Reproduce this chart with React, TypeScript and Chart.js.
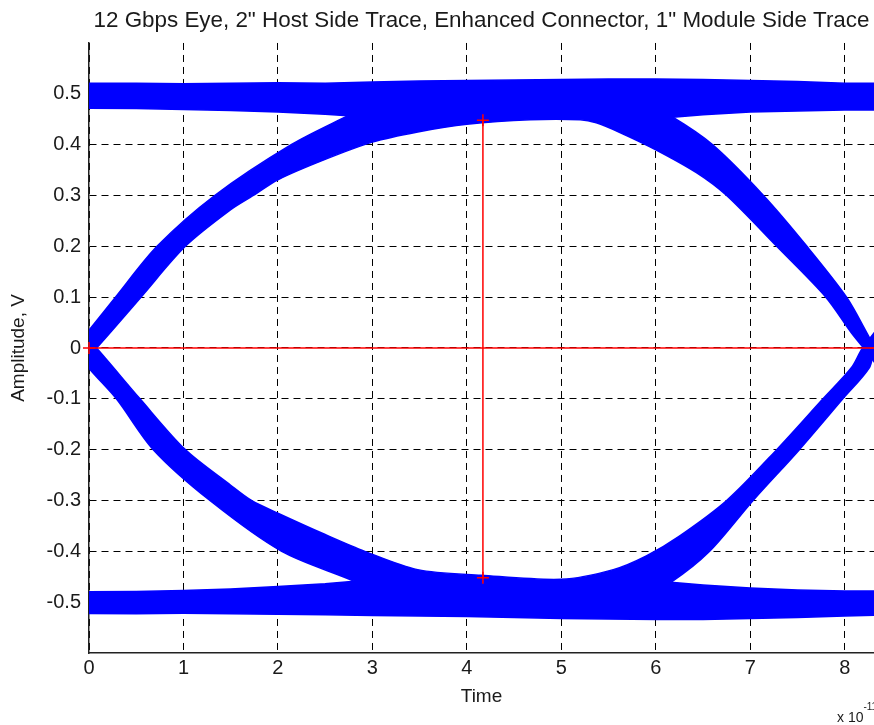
import React, { useEffect, useRef } from 'react';
import { Chart, registerables } from 'chart.js';

Chart.register(...registerables);

type P = [number, number];

// ---- text ----
const TITLE = '12 Gbps Eye, 2" Host Side Trace, Enhanced Connector, 1" Module Side Trace';
const X_TITLE = 'Time';
const Y_TITLE = 'Amplitude, V';
const X_MULT = 'x 10';
const X_EXP = '-11';

// ---- axes (time in units of 1e-11 s, amplitude in V) ----
const X_MIN = 0;
const X_MAX = 8.31;
const Y_MIN = -0.6;
const Y_MAX = 0.6;
const X_TICKS = [0, 1, 2, 3, 4, 5, 6, 7, 8];
const Y_TICKS = [-0.5, -0.4, -0.3, -0.2, -0.1, 0, 0.1, 0.2, 0.3, 0.4, 0.5];

// ---- upper rail ----
const upperRailTop: P[] = [
  [-0.2, 0.521], [0.5, 0.521], [1, 0.52], [1.5, 0.521], [2, 0.522], [2.5, 0.521],
  [3, 0.523], [3.5, 0.525], [4, 0.526], [4.5, 0.527], [5, 0.528], [5.5, 0.529],
  [6, 0.529], [6.5, 0.528], [7, 0.526], [7.5, 0.524], [8, 0.521], [8.6, 0.521],
];
const upperRailBottom: P[] = [
  [-0.2, 0.472], [0.5, 0.471], [1, 0.469], [1.5, 0.467], [2, 0.464], [2.5, 0.46], [2.74, 0.457],
  [6.18, 0.454], [6.5, 0.459], [7, 0.464], [7.5, 0.466], [8, 0.468], [8.6, 0.468],
];
// ---- upper transitions ----
const risingOuterLeft: P[] = [
  [-0.2, -0.01], [0, 0.035], [0.28, 0.1], [0.72, 0.2], [1.33, 0.3], [2.14, 0.4], [2.74, 0.457],
];
const upperMerge: P[] = [[3.1, 0.49], [5.8, 0.49]];
const fallingOuterRight: P[] = [
  [6.18, 0.454], [6.6, 0.4], [7.14, 0.3], [7.6, 0.2], [8.02, 0.1], [8.24, 0.028], [8.32, 0], [8.5, -0.05],
];
const eyeTopInner: P[] = [
  [-0.2, -0.055], [0.08, 0], [0.55, 0.1], [1.02, 0.2], [1.5, 0.272], [1.74, 0.3], [2.0, 0.331],
  [2.5, 0.371], [3.0, 0.405], [3.48, 0.425], [4.0, 0.44], [4.67, 0.449], [5.2, 0.449], [5.37, 0.443],
  [5.62, 0.424], [6.0, 0.39], [6.43, 0.345], [6.75, 0.3], [7.28, 0.2], [7.8, 0.1], [8.07, 0.03],
  [8.2, 0], [8.5, -0.07],
];

// ---- lower rail ----
const lowerRailBottom: P[] = [
  [-0.2, -0.522], [0.5, -0.523], [1, -0.522], [1.5, -0.523], [2, -0.524], [2.5, -0.525],
  [3, -0.526], [3.5, -0.527], [4, -0.528], [4.5, -0.53], [5, -0.532], [5.5, -0.533],
  [6, -0.534], [6.5, -0.534], [7, -0.532], [7.5, -0.53], [8, -0.527], [8.6, -0.525],
];
const lowerRailTop: P[] = [
  [-0.2, -0.48], [0.5, -0.479], [1, -0.477], [1.5, -0.474], [2, -0.469], [2.5, -0.464], [2.81, -0.459],
  [6.16, -0.461], [6.5, -0.466], [7, -0.472], [7.5, -0.476], [8, -0.478], [8.6, -0.478],
];
// ---- lower transitions ----
const fallingOuterLeft: P[] = [
  [-0.2, 0.01], [0, -0.04], [0.29, -0.1], [0.68, -0.2], [1.28, -0.3], [2.04, -0.4], [2.81, -0.459],
];
const lowerMerge: P[] = [[3.2, -0.495], [5.8, -0.495]];
const risingOuterRight: P[] = [
  [6.16, -0.461], [6.57, -0.4], [7.03, -0.3], [7.52, -0.2], [7.98, -0.1], [8.26, -0.039], [8.32, 0], [8.5, 0.05],
];
const eyeBottomInner: P[] = [
  [-0.2, 0.055], [0.08, 0], [0.54, -0.1], [1.02, -0.2], [1.5, -0.27], [1.72, -0.3], [2.0, -0.325],
  [2.5, -0.367], [2.92, -0.4], [3.48, -0.436], [4.15, -0.447], [5.0, -0.455], [5.55, -0.436],
  [5.9, -0.409], [6.25, -0.37], [6.75, -0.3], [7.28, -0.2], [7.77, -0.1], [8.07, -0.039],
  [8.19, 0], [8.5, 0.07],
];

// ---- red cursors ----
const cursorVertical: P[] = [[4.17, 0.448], [4.17, -0.452]];
const cursorHorizontal: P[] = [[0, 0], [8.33, 0]];

const rev = (a: P[]) => a.slice().reverse();
const toXY = (a: P[]) => a.map(([x, y]) => ({ x, y }));

const upperRailShape = toXY([...upperRailTop, ...rev(upperRailBottom)]);
const lowerRailShape = toXY([...lowerRailBottom, ...rev(lowerRailTop)]);
const upperBodyShape = toXY([
  ...eyeTopInner,
  ...rev(fallingOuterRight),
  ...rev(upperMerge),
  ...rev(risingOuterLeft),
]);
const lowerBodyShape = toXY([
  ...eyeBottomInner,
  ...rev(risingOuterRight),
  ...rev(lowerMerge),
  ...rev(fallingOuterLeft),
]);

const BLUE = '#0000ff';
const RED = '#ff0000';
const FONT = "'Liberation Sans', Arial, sans-serif";
const TEXT = '#1a1a1a';

const exponentPlugin = {
  id: 'exponentLabel',
  afterDraw(chart: any) {
    const ctx = chart.ctx;
    ctx.save();
    ctx.fillStyle = TEXT;
    ctx.textBaseline = 'alphabetic';
    ctx.textAlign = 'left';
    ctx.font = `14px ${FONT}`;
    const x0 = 837;
    ctx.fillText(X_MULT, x0, 722);
    const w = ctx.measureText(X_MULT).width;
    ctx.font = `10px ${FONT}`;
    ctx.fillText(X_EXP, x0 + w, 710);
    ctx.restore();
  },
};

const shapeDs = (label: string, data: any[], tension: number) => ({
  label,
  data,
  showLine: true,
  fill: 'shape' as any,
  backgroundColor: BLUE,
  borderColor: BLUE,
  borderWidth: 1.5,
  pointRadius: 0,
  tension,
  capBezierPoints: false,
  order: 1,
  clip: 0 as any,
});

const cursorDs = (label: string, data: any[]) => ({
  label,
  data,
  showLine: true,
  borderColor: RED,
  borderWidth: 1.5,
  pointStyle: 'cross' as any,
  pointRadius: 6,
  pointBorderColor: RED,
  pointBorderWidth: 1.5,
  order: 0,
  clip: false as any,
});

export default function App() {
  const ref = useRef<HTMLCanvasElement | null>(null);

  useEffect(() => {
    document.body.style.margin = '0';
    const canvas = ref.current;
    if (!canvas) return;
    const zeroPad = (s: any) => {
      s.paddingLeft = 0;
      s.paddingRight = 0;
      s.paddingTop = 0;
      s.paddingBottom = 0;
    };
    const chart = new Chart(canvas, {
      type: 'scatter',
      data: {
        datasets: [
          cursorDs('cursor-v', toXY(cursorVertical)),
          cursorDs('cursor-h', toXY(cursorHorizontal)),
          shapeDs('upper-rail', upperRailShape, 0),
          shapeDs('upper-body', upperBodyShape, 0.3),
          shapeDs('lower-rail', lowerRailShape, 0),
          shapeDs('lower-body', lowerBodyShape, 0.3),
        ],
      },
      options: {
        animation: false,
        responsive: false,
        devicePixelRatio: 1,
        layout: { padding: 0, autoPadding: false },
        plugins: {
          legend: { display: false },
          tooltip: { enabled: false },
          title: {
            display: true,
            text: TITLE,
            fullSize: false,
            color: TEXT,
            font: { family: FONT, size: 22.4, weight: 'normal' as any, lineHeight: 1.2 },
            padding: { top: 7.1, bottom: 9.0 },
          },
        },
        scales: {
          x: {
            type: 'linear',
            min: X_MIN,
            max: X_MAX,
            afterBuildTicks: (s: any) => {
              s.ticks = X_TICKS.map((v) => ({ value: v }));
            },
            afterFit: (s: any) => {
              s.height = 72;
              zeroPad(s);
            },
            ticks: {
              color: TEXT,
              font: { family: FONT, size: 20 },
              padding: 3,
              maxRotation: 0,
              autoSkip: false,
            },
            grid: { color: '#000', lineWidth: 1, drawTicks: false },
            border: { display: true, color: '#222', width: 1.5, dash: [7, 5] },
            title: {
              display: true,
              text: X_TITLE,
              color: TEXT,
              font: { family: FONT, size: 19, lineHeight: 1.2 },
              padding: { top: 0, bottom: 16.6 },
            },
          },
          y: {
            type: 'linear',
            min: Y_MIN,
            max: Y_MAX,
            afterBuildTicks: (s: any) => {
              s.ticks = Y_TICKS.map((v) => ({ value: v }));
            },
            afterFit: (s: any) => {
              s.width = 89;
              zeroPad(s);
            },
            ticks: {
              color: TEXT,
              font: { family: FONT, size: 20 },
              padding: 8,
              autoSkip: false,
            },
            grid: { color: '#000', lineWidth: 1, drawTicks: false },
            border: { display: true, color: '#222', width: 1.5, dash: [7, 5] },
            title: {
              display: true,
              text: Y_TITLE,
              color: TEXT,
              font: { family: FONT, size: 19, lineHeight: 1.2 },
              padding: { top: 7, bottom: 0 },
            },
          },
        },
      },
      plugins: [exponentPlugin],
    });
    return () => chart.destroy();
  }, []);

  return (
    <div style={{ position: 'fixed', left: 0, top: 0, width: 874, height: 725, background: '#fff' }}>
      <canvas ref={ref} width={874} height={725} style={{ display: 'block' }} />
    </div>
  );
}
